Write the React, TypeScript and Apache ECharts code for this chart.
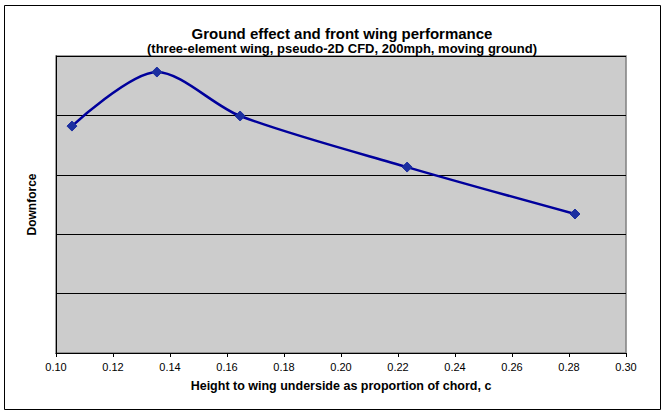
import React, { useEffect, useRef } from "react";
import * as echarts from "echarts";

const heights = [0.1056, 0.1354, 0.1646, 0.2232, 0.2821];
const downforce = [3.82, 4.73, 3.99, 3.13, 2.34];
const xTicks = [0.1, 0.12, 0.14, 0.16, 0.18, 0.2, 0.22, 0.24, 0.26, 0.28, 0.3];

export default function App() {
  const ref = useRef<HTMLDivElement>(null);
  useEffect(() => {
    if (!ref.current) return;
    const chart = echarts.init(ref.current, null, { renderer: "svg" });
    chart.setOption({
      animation: false,
      backgroundColor: "#ffffff",
      textStyle: { fontFamily: "Liberation Sans, Arial, sans-serif" },
      title: [
        {
          text: "Ground effect and front wing performance",
          left: 337,
          textAlign: "center",
          top: 21,
          textStyle: { fontSize: 15, fontWeight: "bold", color: "#000" },
        },
        {
          text: "(three-element wing, pseudo-2D CFD, 200mph, moving ground)",
          left: 337,
          textAlign: "center",
          top: 37,
          textStyle: { fontSize: 13, fontWeight: "bold", color: "#000" },
        },
      ],
      graphic: [
        {
          type: "rect",
          shape: { x: 4.5, y: 5.5, width: 656, height: 404 },
          style: { fill: "none", stroke: "#000", lineWidth: 1 },
          z: 100,
        },
      ],
      grid: {
        left: 56,
        right: 39,
        top: 56,
        bottom: 62,
        show: true,
        backgroundColor: "#CCCCCC",
        borderColor: "#808080",
        borderWidth: 1.5,
      },
      xAxis: {
        type: "value",
        min: 0.1,
        max: 0.3,
        interval: 0.02,
        name: "Height to wing underside as proportion of chord, c",
        nameLocation: "middle",
        nameGap: 26,
        nameTextStyle: { fontSize: 12.5, fontWeight: "bold", color: "#000" },
        axisLine: { lineStyle: { color: "#000", width: 1 } },
        axisTick: { show: true, length: 4, lineStyle: { color: "#000" } },
        axisLabel: {
          fontSize: 11,
          color: "#000",
          margin: 8,
          formatter: (v: number) => {
            const m = xTicks.find((t) => Math.abs(t - v) < 1e-9);
            return (m ?? v).toFixed(2);
          },
        },
        splitLine: { show: false },
      },
      yAxis: {
        type: "value",
        min: 0,
        max: 5,
        interval: 1,
        name: "Downforce",
        nameLocation: "middle",
        nameGap: 18,
        nameTextStyle: { fontSize: 12, fontWeight: "bold", color: "#000" },
        axisLine: { show: true, lineStyle: { color: "#000", width: 1 } },
        axisTick: { show: false },
        axisLabel: { show: false },
        splitLine: { show: true, lineStyle: { color: "#000", width: 1 } },
      },
      series: [
        {
          type: "line",
          data: heights.map((h, i) => [h, downforce[i]]),
          smooth: 0.3,
          symbol: "diamond",
          symbolSize: 10,
          lineStyle: { color: "#00009C", width: 2.5 },
          itemStyle: { color: "#1C2FA0", borderColor: "#1C2FA0" },
        },
      ],
    });
    return () => chart.dispose();
  }, []);
  return (
    <div
      ref={ref}
      style={{ position: "fixed", left: 0, top: 0, width: 665, height: 415 }}
    />
  );
}
